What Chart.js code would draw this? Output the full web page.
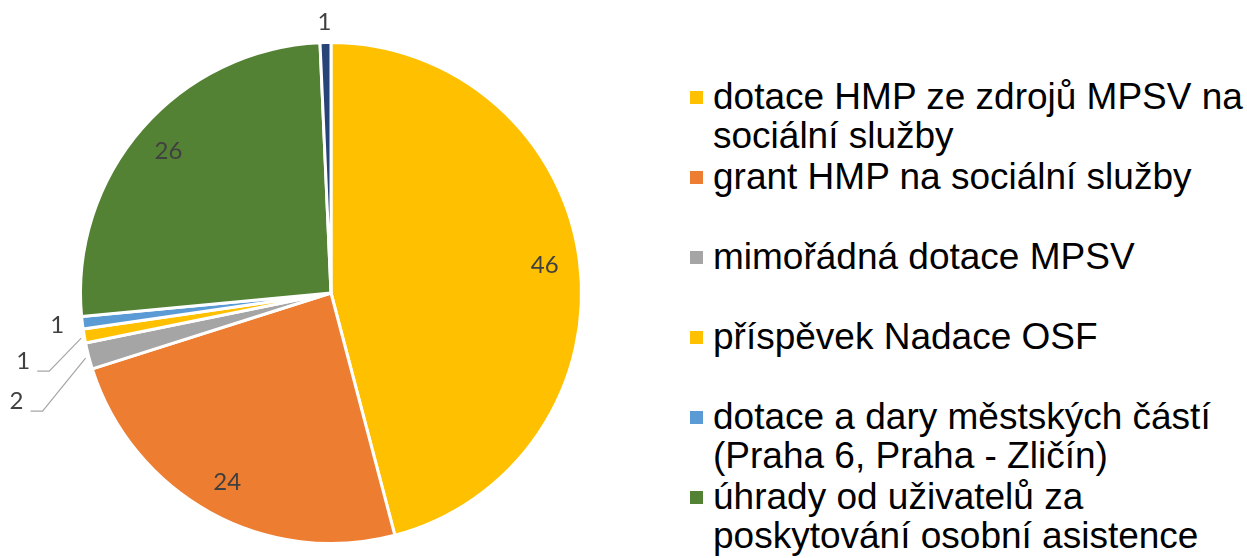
<!DOCTYPE html>
<html lang="cs">
<head>
    <meta charset="UTF-8">
    <title>Zdroje financování</title>
    <style>
        body {
            margin: 0;
            width: 1247px;
            height: 558px;
            overflow: hidden;
            background: #ffffff;
            position: relative;
        }
        #chartBox {
            position: absolute;
            left: 0;
            top: 0;
            width: 662px;
            height: 558px;
        }
        #legend {
            position: absolute;
            left: 690px;
            top: 77px;
            width: 560px;
            font-family: "Liberation Sans", Arial, sans-serif;
            font-size: 37px;
            line-height: 39px;
            color: #000000;
        }
        .item {
            position: relative;
            height: 80px;
            padding-left: 23px;
            white-space: nowrap;
        }
        .box {
            position: absolute;
            left: 0;
            top: 14px;
            width: 13px;
            height: 13px;
        }
    </style>
    <script src="https://cdn.jsdelivr.net/npm/chart.js"></script>
</head>
<body>
    <div id="chartBox"><canvas id="pie"></canvas></div>
    <div id="legend"></div>

    <script>
        // kategorie (legenda, zalomení řádků jako v originálu)
        const categories = [
            ['dotace HMP ze zdrojů MPSV na', 'sociální služby'],
            ['grant HMP na sociální služby'],
            ['mimořádná dotace MPSV'],
            ['příspěvek Nadace OSF'],
            ['dotace a dary městských částí', '(Praha 6, Praha - Zličín)'],
            ['úhrady od uživatelů za', 'poskytování osobní asistence'],
            ['ostatní']
        ];
        // podíly v %
        const shares = [45.9, 24.2, 1.7, 0.9, 0.8, 25.8, 0.7];
        const colors = ['#FFC000', '#ED7D31', '#A5A5A5', '#FFC000', '#5B9BD5', '#548235', '#264478'];

        // umístění popisků malých výsečí (posun od okraje výseče)
        const labelPlace = [
            null, null,
            { dx: -72, dy: 45, leader: true },
            { dx: -61, dy: 25, leader: true },
            { dx: -25, dy: 2, leader: false },
            null,
            { dx: -1, dy: -20, leader: false }
        ];

        const labelPlugin = {
            id: 'sliceLabels',
            afterDatasetsDraw(chart) {
                const ctx = chart.ctx;
                const meta = chart.getDatasetMeta(0);
                ctx.save();
                ctx.font = '24px Lato, "Open Sans", sans-serif';
                ctx.fillStyle = '#404040';
                ctx.textAlign = 'center';
                ctx.textBaseline = 'middle';
                meta.data.forEach((arc, i) => {
                    const p = arc.getProps(['x', 'y', 'startAngle', 'endAngle', 'outerRadius']);
                    const mid = (p.startAngle + p.endAngle) / 2;
                    const text = String(Math.round(shares[i]));
                    const place = labelPlace[i];
                    if (!place) {
                        const r = p.outerRadius * 0.86;
                        ctx.fillText(text, p.x + Math.cos(mid) * r, p.y + Math.sin(mid) * r);
                        return;
                    }
                    const ax = p.x + Math.cos(mid) * p.outerRadius;
                    const ay = p.y + Math.sin(mid) * p.outerRadius;
                    const lx = ax + place.dx;
                    const ly = ay + place.dy;
                    if (place.leader) {
                        ctx.strokeStyle = '#A6A6A6';
                        ctx.lineWidth = 1.2;
                        ctx.beginPath();
                        ctx.moveTo(ax - 3, ay + 2);
                        ctx.lineTo(lx + 26, ly + 10);
                        ctx.lineTo(lx + 14, ly + 10);
                        ctx.stroke();
                    }
                    ctx.fillText(text, lx, ly);
                });
                ctx.restore();
            }
        };

        new Chart(document.getElementById('pie'), {
            type: 'pie',
            data: {
                labels: categories.map(c => c.join(' ')),
                datasets: [{
                    data: shares,
                    backgroundColor: colors,
                    borderColor: '#ffffff',
                    borderWidth: 3
                }]
            },
            options: {
                responsive: true,
                maintainAspectRatio: false,
                animation: false,
                layout: { padding: { top: 41, bottom: 13 } },
                plugins: {
                    legend: { display: false },
                    tooltip: { enabled: false }
                }
            },
            plugins: [labelPlugin]
        });

        // legenda vpravo
        const legend = document.getElementById('legend');
        categories.forEach((lines, i) => {
            const item = document.createElement('div');
            item.className = 'item';
            const box = document.createElement('span');
            box.className = 'box';
            box.style.background = colors[i];
            item.appendChild(box);
            lines.forEach((line, j) => {
                if (j > 0) item.appendChild(document.createElement('br'));
                item.appendChild(document.createTextNode(line));
            });
            legend.appendChild(item);
        });
    </script>
</body>
</html>
